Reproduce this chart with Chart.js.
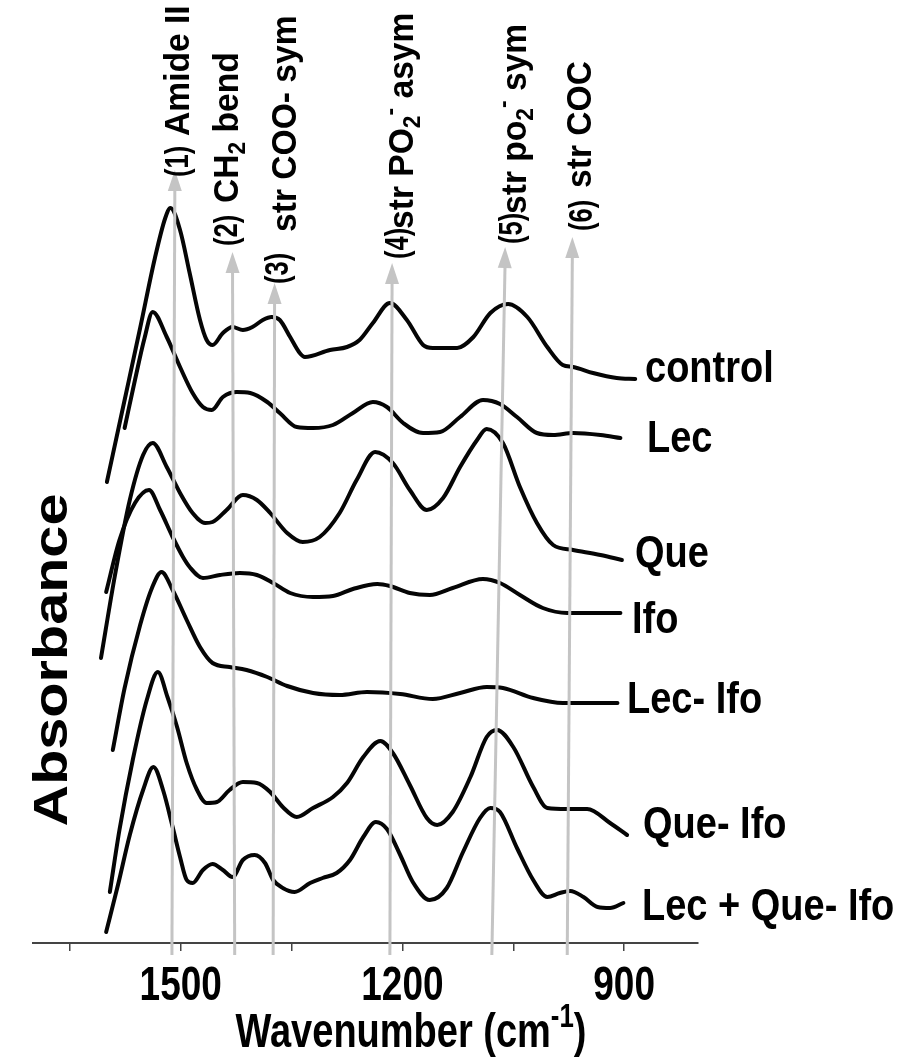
<!DOCTYPE html>
<html>
<head>
<meta charset="utf-8">
<title>FTIR spectra</title>
<script src="https://cdn.jsdelivr.net/npm/chart.js@4.4.1/dist/chart.umd.min.js"></script>
<style>
  html, body { margin: 0; padding: 0; background: #fff; }
  canvas { display: block; }
</style>
</head>
<body>
<canvas id="ftirChart" width="902" height="1064"></canvas>
<script>
// Spectra: wavenumber (cm-1) and stacked absorbance (arbitrary units)
const controlWn  = [1600,1576,1555,1535,1521,1514,1501,1488,1474,1465,1457,1443,1430,1416,1403,1389,1377,1366,1352,1339,1332,1298,1275,1258,1240,1217,1194,1172,1159,1126,1104,1081,1057,1031,1004,983,969,942,910,885];
const controlAbs = [46.1,54.3,61.5,68.5,72.5,73.5,71.3,67.0,62.3,60.3,59.8,61.0,61.6,61.3,61.6,62.3,62.6,62.3,60.6,59.0,58.6,59.3,59.6,60.3,62.0,64.0,62.3,59.8,59.5,59.5,60.6,63.0,63.9,62.6,59.6,57.8,57.6,57.0,56.5,56.4];

const lecWn  = [1576,1562,1549,1538,1519,1501,1484,1470,1458,1443,1424,1406,1383,1366,1343,1321,1294,1267,1240,1221,1199,1172,1149,1122,1091,1068,1045,1018,996,969,932,905];
const lecAbs = [51.5,56.3,60.5,63.1,60.6,57.6,55.0,53.6,53.3,54.6,55.1,55.0,54.1,53.0,51.6,51.5,51.8,53.0,54.1,53.6,52.0,51.0,51.1,52.6,54.3,53.9,52.6,51.0,50.8,51.0,50.8,50.5];

const queWn  = [1608,1589,1569,1551,1538,1519,1501,1484,1467,1457,1438,1416,1397,1379,1356,1335,1312,1285,1262,1237,1213,1190,1167,1145,1122,1099,1086,1064,1041,1018,996,969,932,903];
const queAbs = [28.5,36.8,44.3,48.8,50.0,47.6,45.0,43.0,42.0,42.1,43.3,44.8,44.3,43.0,41.0,40.1,40.6,43.0,46.3,49.1,48.0,45.3,43.3,44.5,47.6,50.3,51.4,50.0,45.6,42.0,39.8,39.3,38.8,38.3];

const ifoWn  = [1601,1583,1562,1543,1528,1511,1497,1488,1470,1447,1420,1397,1375,1352,1321,1294,1267,1234,1217,1190,1163,1132,1091,1068,1041,1010,977,946,905];
const ifoAbs = [35.1,40.3,44.0,45.3,43.3,40.6,38.6,37.6,36.5,36.8,37.0,36.8,36.0,35.0,34.6,34.7,35.4,35.9,35.7,35.0,34.8,35.5,36.4,36.0,34.8,33.5,33.0,33.0,33.0];

const lecIfoWn  = [1592,1576,1555,1539,1526,1511,1492,1474,1457,1434,1411,1383,1356,1321,1285,1248,1203,1159,1122,1086,1064,1023,983,909];
const lecIfoAbs = [19.3,25.5,31.8,35.5,37.1,35.3,32.3,29.6,28.0,27.6,27.3,26.6,25.7,25.0,24.8,25.1,24.9,24.4,25.0,25.6,25.5,24.5,24.0,24.0];

const queIfoWn  = [1596,1583,1565,1546,1531,1518,1505,1492,1478,1465,1451,1434,1416,1397,1379,1362,1343,1321,1294,1275,1253,1230,1213,1190,1167,1153,1132,1108,1086,1072,1050,1023,1004,977,950,919,896];
const queIfoAbs = [5.1,11.3,18.3,24.3,27.1,24.6,21.6,18.0,15.3,14.0,14.1,15.3,16.1,16.0,15.1,13.6,12.6,13.5,14.6,16.0,18.6,20.2,19.0,15.8,12.5,11.8,13.1,16.6,20.6,21.3,19.6,15.6,13.5,13.4,13.4,12.0,10.8];

const lecQueIfoWn  = [1601,1585,1569,1551,1537,1524,1511,1501,1492,1484,1470,1457,1443,1430,1416,1400,1386,1375,1362,1346,1325,1308,1289,1271,1253,1236,1221,1203,1186,1163,1140,1118,1095,1081,1068,1045,1023,1004,987,973,955,936,919,901];
const lecQueIfoAbs = [1.1,5.8,10.8,15.3,17.6,15.3,11.6,8.6,6.3,6.0,7.3,7.9,7.3,6.6,8.3,8.8,8.0,6.3,5.5,5.1,6.0,6.5,7.0,8.3,10.6,12.1,11.4,8.8,6.1,4.3,5.5,9.1,12.5,13.5,13.1,9.5,6.3,4.6,5.0,5.2,4.6,3.6,3.5,4.0];

const seriesNames = ['control', 'Lec', 'Que', 'Ifo', 'Lec- Ifo', 'Que- Ifo', 'Lec + Que- Ifo'];
const seriesWn  = [controlWn, lecWn, queWn, ifoWn, lecIfoWn, queIfoWn, lecQueIfoWn];
const seriesAbs = [controlAbs, lecAbs, queAbs, ifoAbs, lecIfoAbs, queIfoAbs, lecQueIfoAbs];

// x axis
const tickValues = [1650, 1500, 1350, 1200, 1050, 900];
const tickLabels = [1500, 1200, 900];

// band markers (gray arrows)
const bandNums     = ['(1)', '(2)', '(3)', '(4)', '(5)', '(6)'];
const bandNames    = ['Amide II', 'CH_{2} bend', 'str COO- sym', 'str PO_{2}^{-} asym', 'str po_{2}^{-} sym', 'str COC'];
const bandBottomWn = [1512, 1427, 1375, 1217, 1079, 977];
const bandTopWn    = [1508, 1430, 1373, 1214, 1061, 970];
const bandTopAbs   = [77.3, 69.1, 66.0, 68.0, 69.6, 70.6];
const bandBottomAbs = -1.2;

// text placement (pixels)
const seriesLabelX = [645, 647, 635, 632, 627, 643, 642];
const seriesLabelY = [382, 452, 567, 633, 713, 838, 920];
const bandNumX     = [176, 225, 276, 396, 510, 580];
const bandNumY     = [177, 246, 284, 259, 244, 231];
const bandNameX    = [176, 225, 283, 400, 513, 578];
const bandNameY    = [136, 203, 232, 229, 214, 188];

const FONT = '"Liberation Sans", Arial, Helvetica, sans-serif';
const ARROW_COLOR = '#c4c4c4';

// "CH_{2}" -> normal / subscript / superscript runs
function parseRich(str) {
  const parts = [];
  const re = /([_^])\{([^}]*)\}|([^_^]+)/g;
  let m;
  while ((m = re.exec(str))) {
    if (m[3]) parts.push({ t: m[3] });
    else parts.push({ t: m[2], sub: m[1] === '_', sup: m[1] === '^' });
  }
  return parts;
}

function drawRich(ctx, str, size, align) {
  const parts = parseRich(str);
  const small = size * 0.68;
  let total = 0;
  parts.forEach(p => {
    ctx.font = `bold ${p.sub || p.sup ? small : size}px ${FONT}`;
    p.w = ctx.measureText(p.t).width;
    total += p.w;
  });
  let x = align === 'center' ? -total / 2 : 0;
  parts.forEach(p => {
    ctx.font = `bold ${p.sub || p.sup ? small : size}px ${FONT}`;
    const dy = p.sub ? size * 0.2 : p.sup ? -size * 0.42 : 0;
    ctx.fillText(p.t, x, dy);
    x += p.w;
  });
}

// horizontal text, x/y = anchor at baseline, stretched vertically
function textH(ctx, str, x, y, size, sy, align) {
  ctx.save();
  ctx.translate(x, y);
  ctx.scale(1, sy);
  drawRich(ctx, str, size, align);
  ctx.restore();
}

// text reading upward, x = centre of the glyph band, y = where the text starts
function textUp(ctx, str, x, y, size, sx, align) {
  ctx.save();
  ctx.translate(x, y);
  ctx.rotate(-Math.PI / 2);
  ctx.scale(sx, 1);
  ctx.translate(0, size * 0.36);
  drawRich(ctx, str, size, align);
  ctx.restore();
}

const figureText = {
  id: 'figureText',
  afterDatasetsDraw(chart) {
    const { ctx, scales: { x, y } } = chart;
    ctx.save();
    ctx.fillStyle = ARROW_COLOR;
    bandTopWn.forEach((w, i) => {
      const tx = x.getPixelForValue(w), ty = y.getPixelForValue(bandTopAbs[i]);
      const bx = x.getPixelForValue(bandBottomWn[i]), by = y.getPixelForValue(bandBottomAbs);
      ctx.save();
      ctx.translate(tx, ty);
      ctx.rotate(Math.atan2(ty - by, tx - bx));
      ctx.beginPath();
      ctx.moveTo(0, 0);
      ctx.lineTo(-21, -7);
      ctx.lineTo(-21, 7);
      ctx.closePath();
      ctx.fill();
      ctx.restore();
    });
    ctx.restore();
  },
  afterDraw(chart) {
    const { ctx, chartArea, scales: { x } } = chart;
    ctx.save();
    ctx.fillStyle = '#000';
    ctx.textBaseline = 'alphabetic';

    tickLabels.forEach(v => textH(ctx, String(v), x.getPixelForValue(v), chartArea.bottom + 57, 37, 1.3, 'center'));
    textH(ctx, 'Wavenumber (cm^{-1})', 411, chartArea.bottom + 104, 38, 1.25, 'center');

    textUp(ctx, 'Absorbance', 50, 660, 48, 1.2, 'center');

    seriesNames.forEach((n, i) => textH(ctx, n, seriesLabelX[i], seriesLabelY[i], 38, 1.15, 'left'));

    bandNums.forEach((n, i) => textUp(ctx, n, bandNumX[i], bandNumY[i], 34, 0.75, 'left'));
    bandNames.forEach((n, i) => textUp(ctx, n, bandNameX[i], bandNameY[i], 35, 0.96, 'left'));
    ctx.restore();
  }
};

const curveSets = seriesNames.map((name, i) => ({
  label: name,
  data: seriesWn[i].map((w, j) => ({ x: w, y: seriesAbs[i][j] })),
  borderColor: '#050505',
  borderWidth: 4,
  pointRadius: 0,
  fill: false,
  cubicInterpolationMode: 'monotone',
  borderCapStyle: 'round',
  borderJoinStyle: 'round',
  order: 1
}));

const arrowSets = bandTopWn.map((w, i) => ({
  label: bandNums[i],
  data: [{ x: bandBottomWn[i], y: bandBottomAbs }, { x: w, y: bandTopAbs[i] - 1.2 }],
  borderColor: ARROW_COLOR,
  borderWidth: 3,
  pointRadius: 0,
  fill: false,
  clip: false,
  order: 0
}));

new Chart(document.getElementById('ftirChart'), {
  type: 'line',
  data: { datasets: [...arrowSets, ...curveSets] },
  options: {
    responsive: false,
    animation: false,
    devicePixelRatio: 1,
    layout: { padding: { left: 33, right: 204, top: 143, bottom: 0 } },
    plugins: { legend: { display: false }, tooltip: { enabled: false } },
    scales: {
      x: {
        type: 'linear',
        reverse: true,
        min: 800,
        max: 1700,
        afterBuildTicks: s => { s.ticks = tickValues.map(v => ({ value: v })); },
        afterFit: s => { s.height = 121; },
        border: { display: true, color: '#444', width: 2 },
        grid: { display: true, drawOnChartArea: false, drawTicks: true, tickLength: 8, color: '#444', lineWidth: 1.5 },
        ticks: { display: false }
      },
      y: { display: false, min: 0, max: 80 }
    }
  },
  plugins: [figureText]
});
</script>
</body>
</html>
